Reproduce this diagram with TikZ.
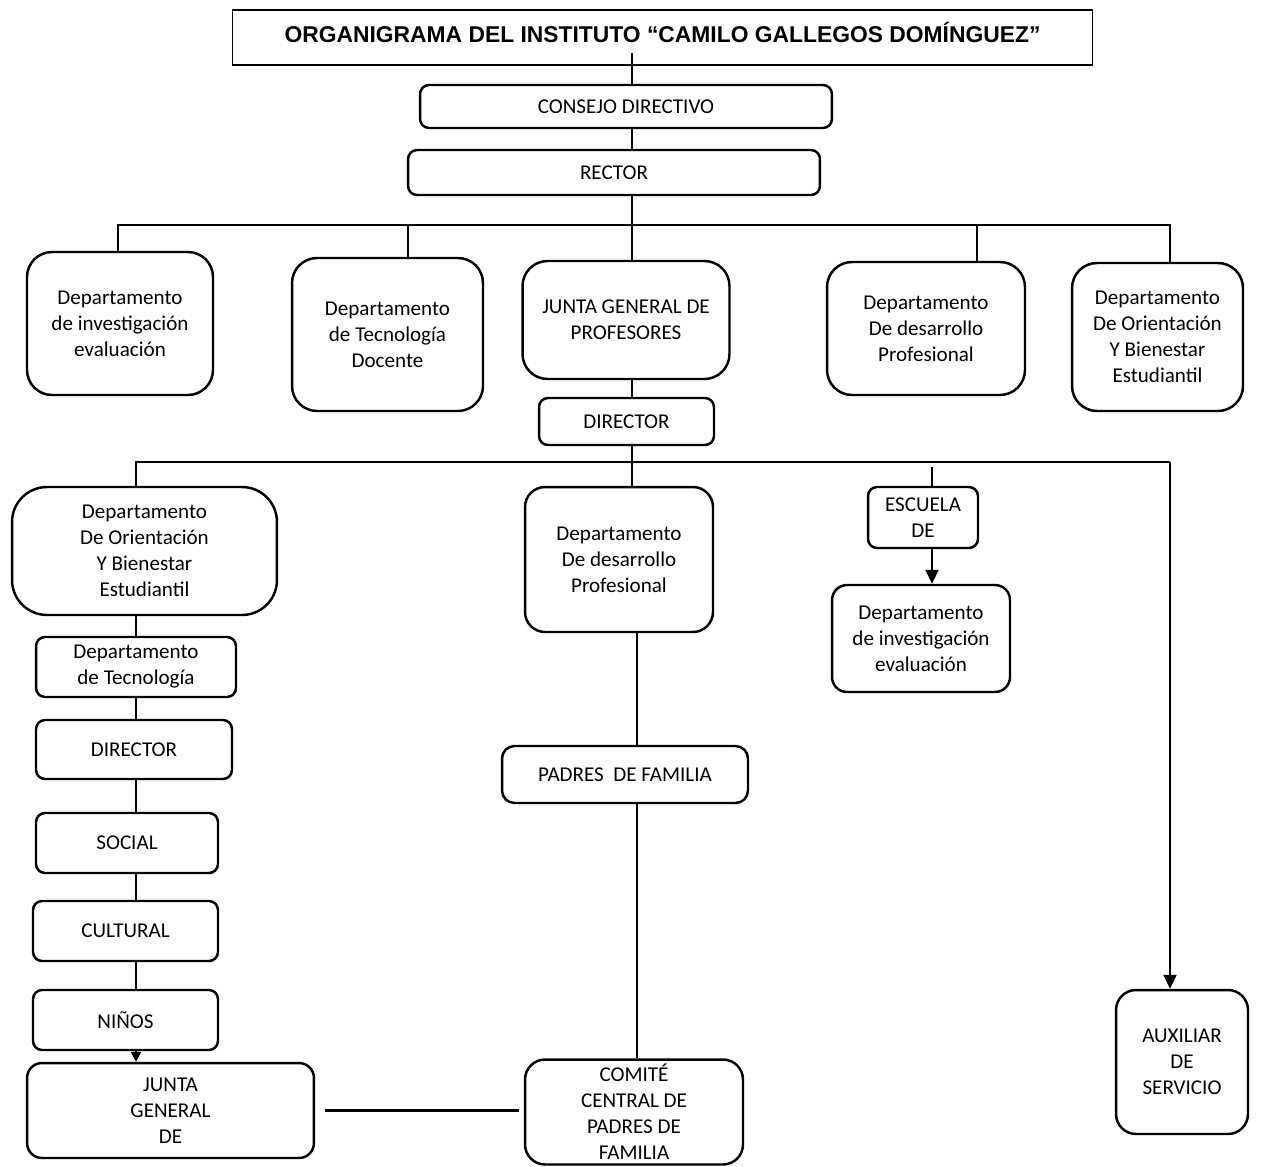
\documentclass[tikz,border=0pt]{standalone}
\usepackage{fontspec}
\setmainfont{Carlito}
\newfontfamily\titlefont{Liberation Sans}
\usetikzlibrary{arrows.meta}

\begin{document}
\begin{tikzpicture}[
    x=0.02cm, y=-0.02cm,
    box/.style={rectangle, draw, line width=1.4pt, rounded corners=0.18cm, align=center, inner sep=0pt, font=\fontsize{12}{14.8}\selectfont},
    bigbox/.style={box, rounded corners=0.5cm},
    link/.style={line width=1.1pt},
    arrow/.style={link, -{Triangle[length=0.28cm, width=0.26cm]}}
]
    \useasboundingbox (0,0) rectangle (1277,1166);

    % title and top of the chart
    \node[draw, line width=0.6pt, minimum width=17.22cm, minimum height=1.1cm, inner sep=0pt, text depth=0.22cm,
          font=\titlefont\bfseries\fontsize{13}{15}\selectfont] (title) at (662.5,37.5)
        {ORGANIGRAMA DEL INSTITUTO “CAMILO GALLEGOS DOMÍNGUEZ”};
    \node[box, minimum width=8.24cm, minimum height=0.86cm] (consejo) at (626,106.5) {CONSEJO DIRECTIVO};
    \node[box, minimum width=8.24cm, minimum height=0.9cm] (rector) at (614,172.5) {RECTOR};

    % first level
    \node[bigbox, minimum width=3.72cm, minimum height=2.86cm] (dinv) at (120,323.5) {Departamento\\de investigación\\evaluación};
    \node[bigbox, minimum width=3.82cm, minimum height=3.06cm] (dtec) at (387.5,334.5) {Departamento\\de Tecnología\\Docente};
    \node[bigbox, minimum width=4.14cm, minimum height=2.36cm] (jgp) at (626,320) {JUNTA GENERAL DE\\PROFESORES};
    \node[bigbox, minimum width=3.96cm, minimum height=2.66cm] (ddes) at (926,328.5) {Departamento\\De desarrollo\\Profesional};
    \node[bigbox, minimum width=3.42cm, minimum height=2.96cm] (dori) at (1157.5,337) {Departamento\\De Orientación\\Y Bienestar\\Estudiantil};
    \node[box, minimum width=3.5cm, minimum height=0.94cm] (director) at (626.5,421.5) {DIRECTOR};

    % left column
    \node[box, rounded corners=0.7cm, minimum width=5.3cm, minimum height=2.56cm] (dori2) at (144.5,551) {Departamento\\De Orientación\\Y Bienestar\\Estudiantil};
    \node[box, minimum width=4cm, minimum height=1.2cm] (dtec2) at (136,667) {Departamento\\de Tecnología};
    \node[box, minimum width=3.92cm, minimum height=1.18cm] (dir2) at (134,749.5) {DIRECTOR};
    \node[box, minimum width=3.64cm, minimum height=1.2cm] (social) at (127,843) {SOCIAL};
    \node[box, minimum width=3.7cm, minimum height=1.2cm] (cultural) at (125.5,931) {CULTURAL};
    \node[box, minimum width=3.7cm, minimum height=1.2cm] (ninos) at (125.5,1020) {NIÑOS};
    \node[box, rounded corners=0.3cm, minimum width=5.74cm, minimum height=1.9cm] (jgd) at (170.5,1110.5) {JUNTA\\GENERAL\\DE};

    % middle column
    \node[box, rounded corners=0.4cm, minimum width=3.76cm, minimum height=2.9cm] (ddes2) at (619,559.5) {Departamento\\De desarrollo\\Profesional};
    \node[box, rounded corners=0.25cm, minimum width=4.92cm, minimum height=1.14cm] (padres) at (625,774.5) {PADRES~~DE FAMILIA};
    \node[box, rounded corners=0.4cm, minimum width=4.36cm, minimum height=2.1cm] (comite) at (634,1112) {COMITÉ\\CENTRAL DE\\PADRES DE\\FAMILIA};

    % right side
    \node[box, minimum width=2.2cm, minimum height=1.22cm] (escuela) at (923,517.5) {ESCUELA\\DE};
    \node[box, rounded corners=0.3cm, minimum width=3.56cm, minimum height=2.14cm] (dinv2) at (921,638.5) {Departamento\\de investigación\\evaluación};
    \node[box, rounded corners=0.4cm, minimum width=2.64cm, minimum height=2.88cm] (aux) at (1182,1062) {AUXILIAR\\DE\\SERVICIO};

    % junctions
    \coordinate (top) at (632,53);
    \coordinate (j11) at (118,225);
    \coordinate (j12) at (408,225);
    \coordinate (j13) at (632,225);
    \coordinate (j14) at (977,225);
    \coordinate (j15) at (1170,225);
    \coordinate (j21) at (136,462);
    \coordinate (j22) at (632,462);
    \coordinate (j24) at (1170,462);
    \coordinate (esc) at (932,467);
    \coordinate (mid) at (637,700);

    \draw[link] (top) -- (top |- consejo.north);
    \draw[link] (consejo.south -| top) -- (rector.north -| top);
    \draw[link] (rector.south -| j13) -- (j13);
    \draw[link] (dinv.north -| j11) -- (j11) -- (j15) -- (dori.north -| j15);
    \foreach \j/\n in {j12/dtec, j13/jgp, j14/ddes}
        \draw[link] (\j) -- (\n.north -| \j);
    \draw[link] (jgp.south -| j13) -- (director.north -| j13);

    \draw[link] (director.south -| j22) -- (j22);
    \draw[link] (dori2.north -| j21) -- (j21) -- (j24);
    \draw[arrow] (j24) -- (aux.north -| j24);
    \draw[link] (j22) -- (ddes2.north -| j22);
    \draw[link] (esc) -- (escuela.north -| esc);
    \draw[arrow] (escuela.south -| esc) -- (dinv2.north -| esc);

    \foreach \a/\b in {dori2/dtec2, dtec2/dir2, dir2/social, social/cultural, cultural/ninos}
        \draw[link] (\a.south -| j21) -- (\b.north -| j21);
    \draw[link, -{Triangle[length=0.2cm, width=0.2cm]}] (ninos.south -| j21) -- (jgd.north -| j21);

    \draw[link] (ddes2.south -| mid) -- (padres.north -| mid);
    \draw[link] (padres.south -| mid) -- (comite.north -| mid);
    \draw[link, line width=1.4pt, shorten <=0.2cm, shorten >=0.1cm] (jgd.east) -- (jgd.east -| comite.west);
\end{tikzpicture}
\end{document}
